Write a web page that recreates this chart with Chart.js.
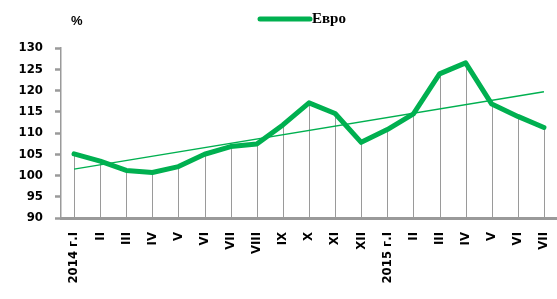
<!DOCTYPE html>
<html>
<head>
<meta charset="utf-8">
<script src="https://cdn.jsdelivr.net/npm/chart.js@4.4.0/dist/chart.umd.min.js"></script>
<style>
    html, body { margin: 0; padding: 0; background: #fff; }
    #wrap { width: 557px; height: 299px; position: relative; }
</style>
</head>
<body>
<div id="wrap"><canvas id="chart"></canvas></div>
<script>
// данни
const months = ['2014 г.I', 'II', 'III', 'IV', 'V', 'VI', 'VII', 'VIII', 'IX', 'X', 'XI', 'XII',
    '2015 г.I', 'II', 'III', 'IV', 'V', 'VI', 'VII'];
const euro = [105.1, 103.4, 101.2, 100.7, 102.1, 105.0, 106.8, 107.4, 111.9, 117.1, 114.6, 107.8,
    110.8, 114.5, 123.9, 126.5, 116.8, 113.9, 111.3];
// линеен тренд - само крайните точки
const trend = [101.5, null, null, null, null, null, null, null, null, null, null, null,
    null, null, null, null, null, null, 119.7];
const yTicks = { min: 90, max: 130, step: 5 };
const legendLabel = 'Евро';
const unitLabel = '%';

const GREEN = '#00b050';
const GRAY = '#9a9a9a';
const tickFont = { family: "'Liberation Sans Narrow', 'DejaVu Sans Condensed', 'Liberation Sans', sans-serif", size: 13, weight: 'bold' };

// вертикални линии от точката до оста
const dropLines = {
    id: 'dropLines',
    beforeDatasetsDraw(chart) {
        const ctx = chart.ctx;
        const meta = chart.getDatasetMeta(0);
        const bottom = chart.chartArea.bottom;
        ctx.save();
        ctx.strokeStyle = GRAY;
        ctx.lineWidth = 1;
        meta.data.forEach(pt => {
            const x = Math.round(pt.x) + 0.5;
            ctx.beginPath();
            ctx.moveTo(x, pt.y);
            ctx.lineTo(x, bottom);
            ctx.stroke();
        });
        ctx.restore();
    }
};

// легенда и мерна единица
const topLabels = {
    id: 'topLabels',
    afterDraw(chart) {
        const ctx = chart.ctx;
        const area = chart.chartArea;
        ctx.save();
        ctx.fillStyle = '#000';
        ctx.font = "bold 13px 'Liberation Sans', sans-serif";
        ctx.textBaseline = 'middle';
        ctx.fillText(unitLabel, area.left + 10, 21);

        ctx.strokeStyle = GREEN;
        ctx.lineWidth = 5;
        ctx.lineCap = 'round';
        ctx.beginPath();
        ctx.moveTo(260, 19);
        ctx.lineTo(310, 19);
        ctx.stroke();
        ctx.font = "bold 15px 'Liberation Serif', serif";
        ctx.fillText(legendLabel, 312, 19);
        ctx.restore();
    }
};

new Chart(document.getElementById('chart'), {
    type: 'line',
    data: {
        labels: months,
        datasets: [
            {
                label: legendLabel,
                data: euro,
                borderColor: GREEN,
                borderWidth: 5,
                pointRadius: 0,
                tension: 0,
                borderJoinStyle: 'round',
                borderCapStyle: 'round'
            },
            {
                label: 'тренд',
                data: trend,
                borderColor: GREEN,
                borderWidth: 1.4,
                pointRadius: 0,
                spanGaps: true
            }
        ]
    },
    options: {
        responsive: true,
        maintainAspectRatio: false,
        animation: false,
        layout: { padding: { top: 48, right: 0, left: 0, bottom: 0 } },
        plugins: {
            legend: { display: false },
            tooltip: { enabled: false }
        },
        scales: {
            x: {
                offset: true,
                grid: { display: false, drawTicks: false },
                border: { color: GRAY, width: 3 },
                ticks: {
                    color: '#000',
                    font: tickFont,
                    maxRotation: 90,
                    minRotation: 90,
                    autoSkip: false,
                    padding: 14
                },
                afterFit(scale) {
                    scale.height = 81;
                    scale.paddingLeft = 0;
                    scale.paddingRight = 0;
                }
            },
            y: {
                min: yTicks.min,
                max: yTicks.max,
                grid: {
                    drawOnChartArea: false,
                    drawTicks: true,
                    tickLength: 6,
                    tickWidth: 2.5,
                    color: GRAY
                },
                border: { color: GRAY, width: 1.5 },
                ticks: {
                    stepSize: yTicks.step,
                    color: '#000',
                    font: tickFont,
                    padding: 12
                },
                afterFit(scale) { scale.width = 61; }
            }
        }
    },
    plugins: [dropLines, topLabels]
});
</script>
</body>
</html>
